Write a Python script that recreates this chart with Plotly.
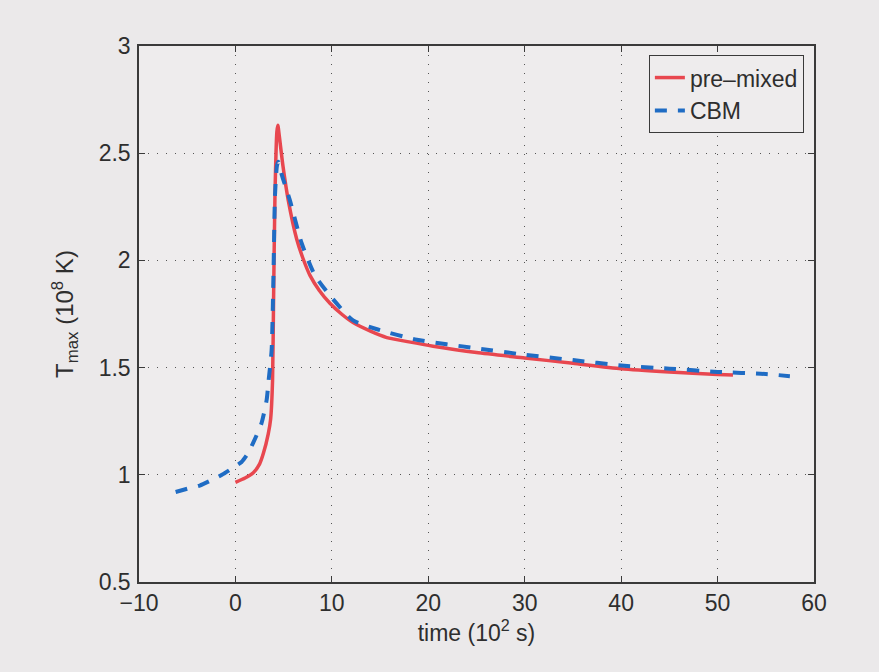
import plotly.graph_objects as go

# pre-mixed curve (time in 10^2 s, T_max in 10^8 K)
premixed_t = [0, 1.0, 1.85, 2.5, 2.9, 3.4, 3.65, 3.85, 3.95, 4.1, 4.3, 4.4, 4.55, 4.93,
              5.48, 6.35, 7.0, 7.73, 8.7, 9.8, 11, 12.2, 14, 15.7, 18, 20.5,
              25, 30, 35, 40, 45, 50, 51.6]
premixed_T = [0.965, 0.985, 1.01, 1.05, 1.10, 1.19, 1.26, 1.44, 1.80, 2.30, 2.60, 2.63, 2.58, 2.44,
              2.28, 2.10, 2.01, 1.93, 1.86, 1.80, 1.75, 1.71, 1.67, 1.64, 1.62, 1.60,
              1.57, 1.545, 1.52, 1.495, 1.48, 1.468, 1.465]

# CBM curve
cbm_t = [-6.2, -5, -3.7, -2.5, -1.4, 0, 0.64, 1.3, 1.85, 2.7, 3.24, 3.44, 3.75, 3.95, 4.1,
         4.3, 4.44, 4.8, 5.65, 6.87, 8.25, 10.1, 12.2, 14.6, 18.8, 25, 30, 35, 40, 45, 50, 55, 57.5]
cbm_T = [0.92, 0.935, 0.95, 0.975, 1.0, 1.04, 1.06, 1.10, 1.15, 1.24, 1.35, 1.44, 1.58, 1.95, 2.3,
         2.44, 2.46, 2.40, 2.28, 2.08, 1.93, 1.82, 1.72, 1.68, 1.63, 1.59, 1.56, 1.535, 1.51, 1.495, 1.48, 1.47, 1.46]

x_ticks = [-10, 0, 10, 20, 30, 40, 50, 60]
y_ticks = [0.5, 1, 1.5, 2, 2.5, 3]
y_ticktext = ["0.5", "1", "1.5", "2", "2.5", "3"]

FONT = "Liberation Sans, Arial, sans-serif"
AXIS_COL = "#3a3a3a"
TXT_COL = "#2e2e2e"

fig = go.Figure()
fig.add_trace(go.Scatter(
    x=premixed_t, y=premixed_T, mode="lines", name="pre\u2013mixed",
    line=dict(color="#e8474f", width=3.5, shape="spline", smoothing=0.6)
))
fig.add_trace(go.Scatter(
    x=cbm_t, y=cbm_T, mode="lines", name="CBM",
    line=dict(color="#1f6cc4", width=4, dash="12px,11px", shape="spline", smoothing=0.6)
))

axis_common = dict(
    showline=True, linecolor=AXIS_COL, linewidth=1.5, mirror="ticks",
    ticks="inside", ticklen=6, tickcolor=AXIS_COL,
    showgrid=True, gridcolor="#555555", gridwidth=1, griddash="1px,8px",
    zeroline=False, tickfont=dict(size=23, color=TXT_COL, family=FONT),
)

fig.update_xaxes(
    range=[-10, 60], tickvals=x_ticks,
    title=dict(text="time (10<sup>2</sup> s)", font=dict(size=23, color=TXT_COL, family=FONT), standoff=2),
    **axis_common
)
fig.update_yaxes(
    range=[0.5, 3], tickvals=y_ticks, ticktext=y_ticktext, ticklabelstandoff=2,
    title=dict(text="T<sub>max</sub> (10<sup>8</sup> K)", font=dict(size=24, color=TXT_COL, family=FONT), standoff=18),
    **axis_common
)

fig.update_layout(
    width=879, height=672,
    margin=dict(l=139, r=65, t=46, b=90),
    paper_bgcolor="#ebe9ea",
    plot_bgcolor="#eeeced",
    font=dict(family=FONT, color=TXT_COL),
    legend=dict(
        x=0.985, y=0.983, xanchor="right", yanchor="top",
        bgcolor="#eeeced", bordercolor=AXIS_COL, borderwidth=1,
        font=dict(size=23, family=FONT, color=TXT_COL),
        tracegroupgap=0,
    ),
)

fig.write_html("out.html", config={"displayModeBar": False},
               post_script="document.body.style.margin='0px';")
